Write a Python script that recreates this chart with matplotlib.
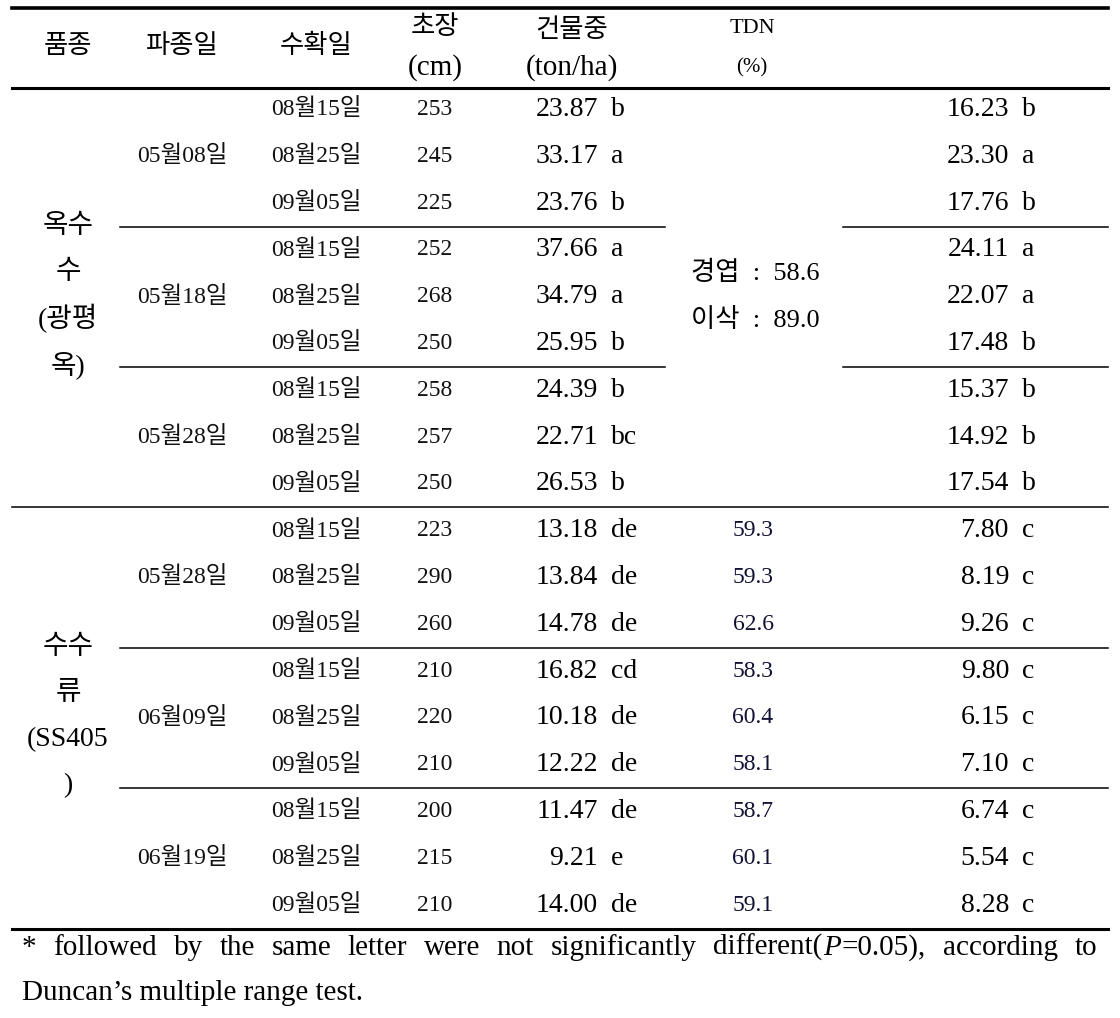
import matplotlib
matplotlib.use("Agg")
from matplotlib import pyplot as plt

plt.rcParams['font.family'] = ['Liberation Serif', 'Noto Sans CJK KR']
plt.rcParams['mathtext.fontset'] = 'custom'
plt.rcParams['mathtext.it'] = 'Liberation Serif:italic'
plt.rcParams['mathtext.rm'] = 'Liberation Serif'

# table data
crops = [['옥수', '수', '(광평', '옥)'], ['수수', '류', '(SS405', ')']]
sowing = ['05월08일', '05월18일', '05월28일', '05월28일', '06월09일', '06월19일']
harvest = ['08월15일', '08월25일', '09월05일'] * 6
height = [253, 245, 225, 252, 268, 250, 258, 257, 250,
          223, 290, 260, 210, 220, 210, 200, 215, 210]
dm = ['23.87', '33.17', '23.76', '37.66', '34.79', '25.95', '24.39', '22.71', '26.53',
      '13.18', '13.84', '14.78', '16.82', '10.18', '12.22', '11.47', '9.21', '14.00']
dm_let = ['b', 'a', 'b', 'a', 'a', 'b', 'b', 'bc', 'b',
          'de', 'de', 'de', 'cd', 'de', 'de', 'de', 'e', 'de']
tdn_maize = ['경엽  :  58.6', '이삭  :  89.0']
tdn = ['59.3', '59.3', '62.6', '58.3', '60.4', '58.1', '58.7', '60.1', '59.1']
yld = ['16.23', '23.30', '17.76', '24.11', '22.07', '17.48', '15.37', '14.92', '17.54',
       '7.80', '8.19', '9.26', '9.80', '6.15', '7.10', '6.74', '5.54', '8.28']
yld_let = ['b', 'a', 'b', 'a', 'a', 'b', 'b', 'b', 'b',
           'c', 'c', 'c', 'c', 'c', 'c', 'c', 'c', 'c']
note1 = ['*', 'followed', 'by', 'the', 'same', 'letter', 'were', 'not',
         'significantly', 'different(', 'P', '=0.05),', 'according', 'to']
note2 = "Duncan’s multiple range test."

W, H = 1120, 1018
fig = plt.figure(figsize=(W / 100, H / 100), dpi=100)
ax = fig.add_axes([0, 0, 1, 1])
ax.set_xlim(0, W)
ax.set_ylim(H, 0)
ax.axis('off')

x0, x1 = 12, 1108
y_first, step = 109.5, 46.8


def row_y(i):
    return y_first + step * i


# rules
ax.plot([x0, x1], [8, 8], color='black', lw=2.6)
ax.plot([x0, x1], [88, 88], color='black', lw=2.2)
ax.plot([x0, x1], [row_y(17.5), row_y(17.5)], color='black', lw=2.2)
ax.plot([x0, x1], [row_y(8.5), row_y(8.5)], color='black', lw=1.1)
for b in [2.5, 5.5]:
    ax.plot([120, 665], [row_y(b), row_y(b)], color='black', lw=1.1)
    ax.plot([843, x1], [row_y(b), row_y(b)], color='black', lw=1.1)
for b in [11.5, 14.5]:
    ax.plot([120, x1], [row_y(b), row_y(b)], color='black', lw=1.1)

# header
hk = dict(ha='center', va='center', fontsize=19, color='black')
ax.text(68, 46, '품종', **hk)
ax.text(182, 46, '파종일', **hk)
ax.text(316, 46, '수확일', **hk)
ax.text(435, 27, '초장', **hk)
ax.text(435, 68, '(cm)', ha='center', va='center', fontsize=21)
ax.text(572, 30, '건물중', **hk)
ax.text(572, 68, '(ton/ha)', ha='center', va='center', fontsize=21)
ax.text(752, 28, 'TDN', ha='center', va='center', fontsize=16)
ax.text(752, 68, '(%)', ha='center', va='center', fontsize=15)

# crop names
for g, lines in enumerate(crops):
    yc = row_y(4 + 9 * g)
    for k, s in enumerate(lines):
        ax.text(68, yc - 70 + k * 46, s, ha='center', va='center', fontsize=20,
                fontweight='light')

# sowing dates
for g, s in enumerate(sowing):
    ax.text(182, row_y(1 + 3 * g), s, ha='center', va='center', fontsize=17,
            color='#111111', fontweight='light')

# rows
for i in range(18):
    y = row_y(i)
    ax.text(316, y, harvest[i], ha='center', va='center', fontsize=17,
            color='#111111', fontweight='light')
    ax.text(435, y, str(height[i]), ha='center', va='center', fontsize=17, color='#111111')
    ax.text(598, y, dm[i], ha='right', va='center', fontsize=20)
    ax.text(611, y, dm_let[i], ha='left', va='center', fontsize=20)
    ax.text(1009, y, yld[i], ha='right', va='center', fontsize=20)
    ax.text(1022, y, yld_let[i], ha='left', va='center', fontsize=20)
for i, v in enumerate(tdn):
    ax.text(753, row_y(9 + i), v, ha='center', va='center', fontsize=17, color='#111133')
ax.text(755, row_y(3.5), tdn_maize[0], ha='center', va='center', fontsize=19,
        fontweight='light')
ax.text(755, row_y(4.5), tdn_maize[1], ha='center', va='center', fontsize=19,
        fontweight='light')

# footnote, first line justified (words are placed one by one)
fig.canvas.draw()
r = fig.canvas.get_renderer()
fs = 21
words = []
for w in note1:
    s = r'$\mathit{P}$' if w == 'P' else w
    t = ax.text(0, 955, s, ha='left', va='baseline', fontsize=fs)
    words.append((w, t, t.get_window_extent(r).width))
# "different(P=0.05)," is one word: no gaps inside it
glued = {'P', '=0.05),'}
n_gaps = sum(1 for w, _, _ in words[1:] if w not in glued)
total = sum(bw for _, _, bw in words)
left, right = 22, 1097
gap = (right - left - total) / n_gaps
x = left
for k, (w, t, bw) in enumerate(words):
    if k > 0 and w not in glued:
        x += gap
    t.set_x(x)
    x += bw
ax.text(22, 1000, note2, ha='left', va='baseline', fontsize=fs)

fig.savefig('out.png', dpi=100)
